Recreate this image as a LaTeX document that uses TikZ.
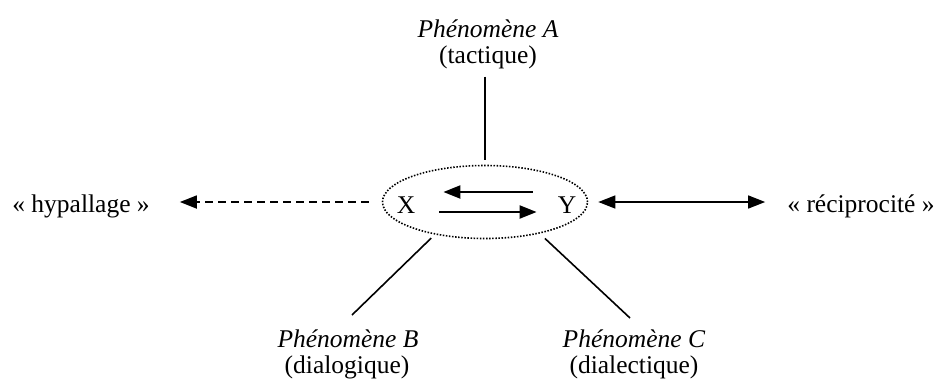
\documentclass[tikz,border=0pt]{standalone}
\usepackage{fontspec}
\setmainfont{Liberation Serif}
\usetikzlibrary{arrows.meta,shapes.geometric}
\begin{document}
\begin{tikzpicture}[x=1pt,y=-1pt,
  lbl/.style={inner sep=0pt,font=\fontsize{25.5}{27}\selectfont},
  tip/.style={-{Triangle[length=17pt,width=13pt]}},
  conn/.style={line width=1.6pt}]
\useasboundingbox (0,0) rectangle (940,378);
% central ellipse
\node[ellipse,draw,line width=1.6pt,dash pattern=on 1.5pt off 1.6pt,minimum width=205pt,minimum height=73pt,inner sep=0pt] (E) at (485,202) {};
\node[lbl,anchor=base] (X) at (406,213) {X};
\node[lbl,anchor=base] (Y) at (567,213) {Y};
% labels
\node[lbl,anchor=base] (A) at (488,37) {\textit{Phénomène A}};
\node[lbl,anchor=base] (Asub) at (488,63) {(tactique)};
\node[lbl,anchor=base] (B) at (348,347) {\textit{Phénomène B}};
\node[lbl,anchor=base] (Bsub) at (347,373) {(dialogique)};
\node[lbl,anchor=base] (C) at (634,347) {\textit{Phénomène C}};
\node[lbl,anchor=base] (Csub) at (634,373) {(dialectique)};
\node[lbl,anchor=base] (hyp) at (81,212) {« hypallage »};
\node[lbl,anchor=base] (rec) at (861,212) {« réciprocité »};
\coordinate (bend) at (352,315);
\coordinate (cend) at (630,318);
% inner arrows
\draw[tip,line width=2.2pt,shorten <=25pt,shorten >=28pt] ([yshift=10pt]Y.west |- E.center) -- ([yshift=10pt]X.east |- E.center);
\draw[tip,line width=2.2pt,shorten <=24pt,shorten >=21pt] ([yshift=-10pt]X.east |- E.center) -- ([yshift=-10pt]Y.west |- E.center);
% connectors
\draw[conn,shorten <=8pt,shorten >=5pt] (E.north |- Asub.south) -- (E.north);
\draw[conn,shorten <=5pt] (E.213) -- (bend);
\draw[conn,shorten <=7pt] (E.330) -- (cend);
\draw[tip,line width=1.8pt,dash pattern=on 8pt off 5pt,shorten <=13pt,shorten >=30pt] (E.west) -- (E.west -| hyp.east);
\draw[{Triangle[length=17pt,width=13pt]}-{Triangle[length=17pt,width=13pt]},line width=1.3pt,shorten <=10pt,shorten >=22pt] (E.east) -- (E.east -| rec.west);
\end{tikzpicture}
\end{document}
